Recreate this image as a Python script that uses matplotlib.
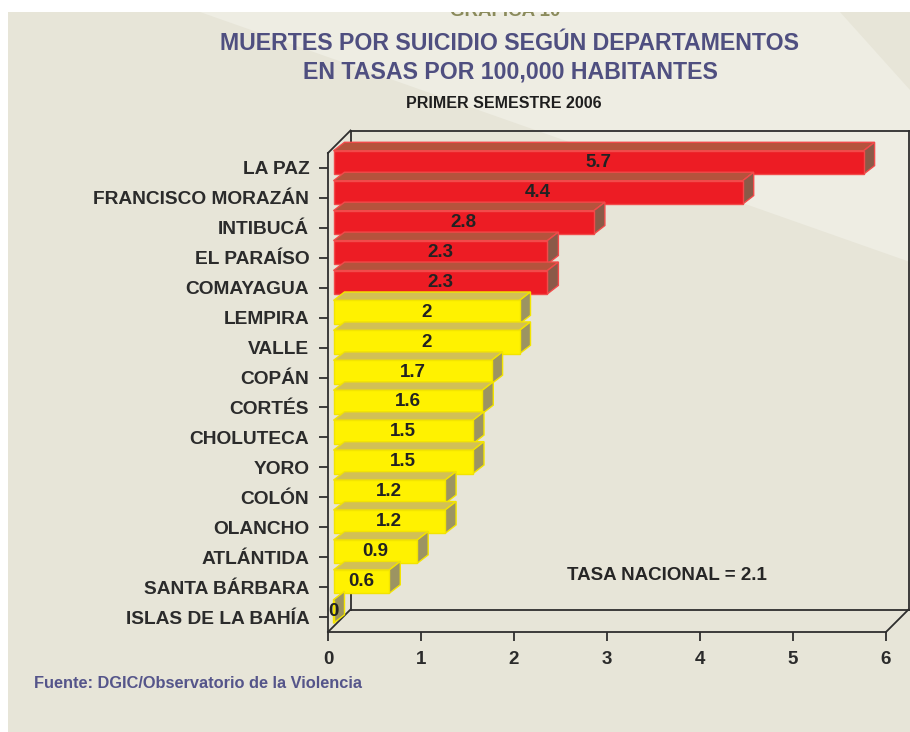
import matplotlib
matplotlib.use("Agg")
import matplotlib.pyplot as plt
from matplotlib.patches import Rectangle, Polygon
from matplotlib.lines import Line2D
from matplotlib.transforms import IdentityTransform
import numpy as np

plt.rcParams['font.family'] = ['Liberation Sans', 'DejaVu Sans']

# datos
departamentos = ["LA PAZ", "FRANCISCO MORAZÁN", "INTIBUCÁ", "EL PARAÍSO", "COMAYAGUA",
                 "LEMPIRA", "VALLE", "COPÁN", "CORTÉS", "CHOLUTECA", "YORO", "COLÓN",
                 "OLANCHO", "ATLÁNTIDA", "SANTA BÁRBARA", "ISLAS DE LA BAHÍA"]
tasas = [5.7, 4.4, 2.8, 2.3, 2.3, 2, 2, 1.7, 1.6, 1.5, 1.5, 1.2, 1.2, 0.9, 0.6, 0]
tasa_nacional = 2.1
x_ticks = [0, 1, 2, 3, 4, 5, 6]

W, H = 910, 732
fig = plt.figure(figsize=(W / 100, H / 100), dpi=100)
fig.patch.set_facecolor('white')

def fx(px):
    return px / W

def fy(py):
    return 1 - py / H

# fondo
fig.add_artist(Rectangle((fx(8), 0), 1, fy(12), transform=fig.transFigure,
                         facecolor='#e7e5d8', edgecolor='none', zorder=-3))
fig.add_artist(Polygon([(fx(200), fy(12)), (fx(840), fy(12)), (fx(910), fy(90)),
                        (fx(910), fy(262))], closed=True, transform=fig.transFigure,
                       facecolor='#eeede3', edgecolor='none', zorder=-2))

ax = fig.add_axes([fx(328), fy(632), fx(886) - fx(328), fy(153) - fy(632)])
ax.set_facecolor('none')
ax.set_xlim(0, 6)
ax.set_ylim(-0.5, len(departamentos) - 0.5)

y = np.arange(len(departamentos))[::-1]

frame_col = '#2e2e2e'
for s in ['top', 'right']:
    ax.spines[s].set_visible(False)
for s in ['left', 'bottom']:
    ax.spines[s].set_color(frame_col)
    ax.spines[s].set_linewidth(1.3)

ax.set_yticks(y)
ax.set_yticklabels(departamentos, fontsize=13.8, fontweight='bold', color='#2b2b2b')
ax.set_xticks(x_ticks)
ax.set_xticklabels([str(t) for t in x_ticks], fontsize=13.5, fontweight='bold', color='#2b2b2b')
ax.tick_params(axis='both', direction='out', length=6.5, width=1.3, color=frame_col, pad=7)

fig.canvas.draw()
ident = IdentityTransform()

def to_px(xv, yv, depth=0.0):
    p = ax.transData.transform((xv, yv))
    return (p[0] + depth * 22.5, p[1] + depth * 22.5)

# pared del fondo (3D)
ylo, yhi = -0.5, len(departamentos) - 0.5
segs = [
    [to_px(0, yhi, 1), to_px(6, yhi, 1)],
    [to_px(6, yhi, 1), to_px(6, ylo, 1)],
    [to_px(0, ylo, 1), to_px(6, ylo, 1)],
    [to_px(0, ylo, 1), to_px(0, yhi, 1)],
    [to_px(0, yhi, 0), to_px(0, yhi, 1)],
    [to_px(0, ylo, 0), to_px(0, ylo, 1)],
    [to_px(6, ylo, 0), to_px(6, ylo, 1)],
]
for a, b in segs:
    fig.add_artist(Line2D([a[0], b[0]], [a[1], b[1]], transform=ident,
                          color=frame_col, lw=1.3, zorder=0.5))

# barras 3D
bar_h = 0.78
dx, dy = 11, 8.5
colores = [('#ed1c24', '#b5533c', '#8a5a48', '#f24a4a') if t > tasa_nacional
           else ('#fff200', '#d2c055', '#9c9462', '#f3e400') for t in tasas]

for yi, t, (cf, ct, cs, ce) in zip(y, tasas, colores):
    x0, y0 = to_px(0, yi - bar_h / 2)
    x1, y1 = to_px(t, yi + bar_h / 2)
    x0 += 5.5; x1 += 5.5; y0 += 5.5; y1 += 5.5
    front = Rectangle((x0, y0), x1 - x0, y1 - y0, transform=ident,
                      facecolor=cf, edgecolor=ce, lw=1, zorder=2)
    top = Polygon([(x0, y1), (x1, y1), (x1 + dx, y1 + dy), (x0 + dx, y1 + dy)],
                  closed=True, transform=ident, facecolor=ct, edgecolor=ce, lw=1, zorder=2)
    side = Polygon([(x1, y0), (x1 + dx, y0 + dy), (x1 + dx, y1 + dy), (x1, y1)],
                   closed=True, transform=ident, facecolor=cs, edgecolor=ce, lw=1, zorder=2)
    for p in (top, side, front):
        fig.add_artist(p)
    lbl = f"{t:g}"
    fig.text((x0 + x1) / 2 / W, (y0 + y1) / 2 / H, lbl, ha='center', va='center',
             fontsize=13.5, fontweight='bold', color='#222222', zorder=3)

# textos
fig.text(fx(505), fy(12), "GRAFICA 10", ha='center', va='center', fontsize=13.5,
         fontweight='bold', color='#8b8b5c', zorder=3)
fig.add_artist(Rectangle((0, fy(12)), 1, 1, transform=fig.transFigure,
                         facecolor='white', edgecolor='none', zorder=4))
fig.add_artist(Rectangle((0, 0), fx(8), 1, transform=fig.transFigure,
                         facecolor='white', edgecolor='none', zorder=4))

title_col = '#4f4f80'
fig.text(fx(509), fy(44), "MUERTES POR SUICIDIO SEGÚN DEPARTAMENTOS", ha='center',
         va='center', fontsize=16.7, fontweight='bold', color=title_col)
fig.text(fx(510), fy(72), "EN TASAS POR 100,000 HABITANTES", ha='center',
         va='center', fontsize=16.7, fontweight='bold', color=title_col)
fig.text(fx(504), fy(104), "PRIMER SEMESTRE 2006", ha='center', va='center',
         fontsize=11.5, fontweight='bold', color='#1e1e1e')
fig.text(fx(667), fy(575), f"TASA NACIONAL = {tasa_nacional}", ha='center', va='center',
         fontsize=13.5, fontweight='bold', color='#262626')
fig.text(fx(34), fy(684), "Fuente: DGIC/Observatorio de la Violencia", ha='left',
         va='center', fontsize=11.8, fontweight='bold', color='#55558a')

fig.savefig("out.png", dpi=100, facecolor=fig.get_facecolor())
